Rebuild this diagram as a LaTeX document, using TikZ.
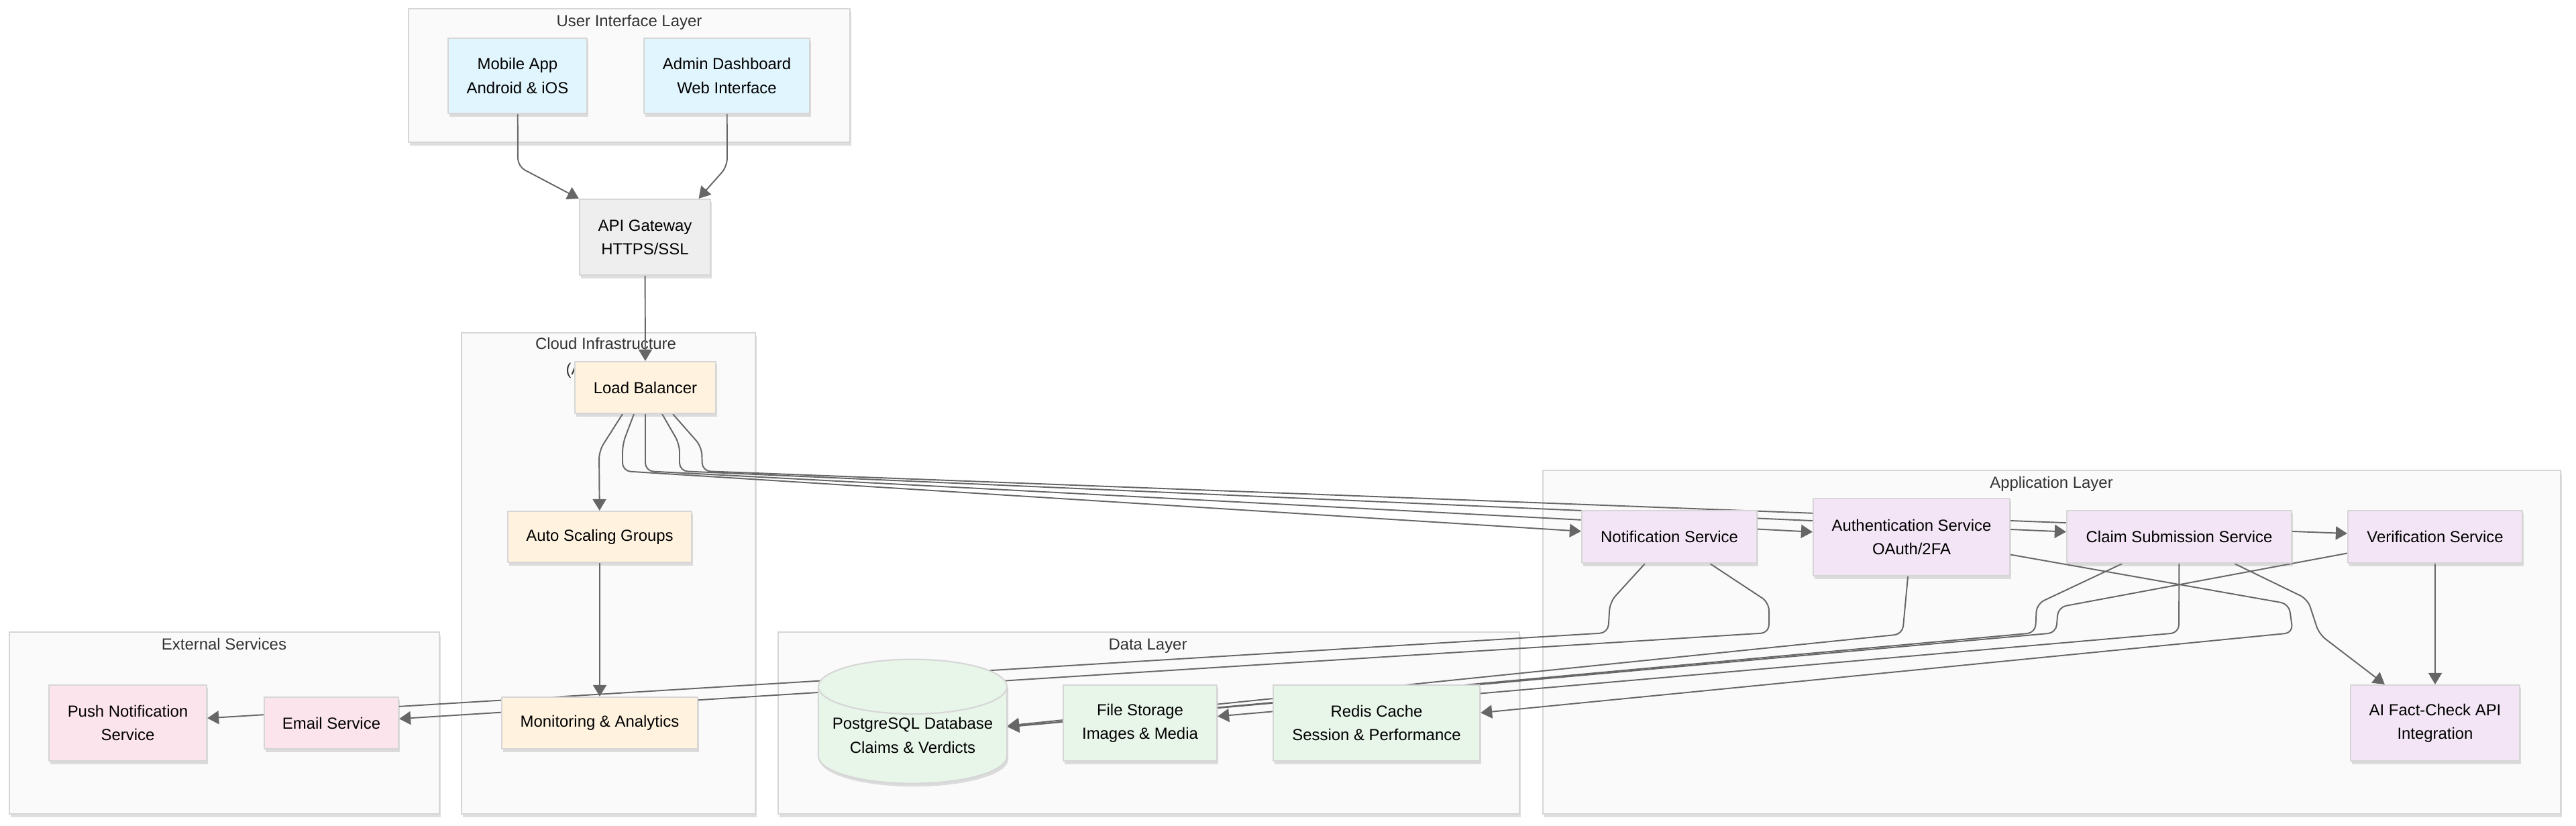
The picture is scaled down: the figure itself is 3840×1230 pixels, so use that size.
\documentclass[tikz,border=0pt]{standalone}
\usepackage{fontspec}
\setmainfont{Liberation Sans}
\usetikzlibrary{arrows.meta,shapes.geometric,shadows}
\definecolor{edgegray}{HTML}{666666}
\definecolor{boxline}{HTML}{D6D6D6}
\definecolor{clusterbg}{HTML}{FAFAFA}
\definecolor{uiblue}{HTML}{E1F5FE}
\definecolor{gwgray}{HTML}{EEEEEE}
\definecolor{cloudorange}{HTML}{FFF3E0}
\definecolor{apppurple}{HTML}{F3E5F5}
\definecolor{datagreen}{HTML}{E8F5E9}
\definecolor{extpink}{HTML}{FCE4EC}
\pgfdeclarelayer{bg}\pgfdeclarelayer{edges}
\pgfsetlayers{bg,edges,main}
\begin{document}
\begin{tikzpicture}[x=0.01cm,y=-0.01cm,>={Triangle[length=0.17cm,width=0.2cm]},
        line join=round, line cap=round,
        every node/.style={font=\fontsize{6.8}{10}\selectfont},
        boxshadow/.style={drop shadow={shadow xshift=0.02cm,shadow yshift=-0.045cm,opacity=0.25,fill=black!50}},
        cluster/.style={draw=boxline,line width=0.6pt,fill=clusterbg,boxshadow},
        clustertitle/.style={anchor=base,text=black!80},
        box/.style={draw=boxline,line width=0.6pt,align=center,inner sep=0pt,boxshadow},
        uinode/.style={box,fill=uiblue}, cloudnode/.style={box,fill=cloudorange},
        appnode/.style={box,fill=apppurple}, datanode/.style={box,fill=datagreen},
        extnode/.style={box,fill=extpink},
        link/.style={->,draw=edgegray,line width=0.55pt,rounded corners=0.12cm}]
        \useasboundingbox (0,0) rectangle (3840,1230);
        % user interface
        \node[uinode,minimum width=2.07cm,minimum height=1.12cm] (mobile) at (771.5,113) {Mobile App\\Android \& iOS};
        \node[uinode,minimum width=2.47cm,minimum height=1.12cm] (admin) at (1083.5,113) {Admin Dashboard\\Web Interface};
        \node[box,fill=gwgray,minimum width=1.95cm,minimum height=1.13cm] (gateway) at (961.5,353.5) {API Gateway\\HTTPS/SSL};
        % cloud
        \node[cloudnode,minimum width=2.1cm,minimum height=0.77cm] (lb) at (962,577.5) {Load Balancer};
        \node[cloudnode,minimum width=2.74cm,minimum height=0.76cm] (asg) at (894,800) {Auto Scaling Groups};
        \node[cloudnode,minimum width=2.92cm,minimum height=0.77cm] (monitor) at (894,1077.5) {Monitoring \& Analytics};
        % external
        \node[extnode,minimum width=2.35cm,minimum height=1.13cm] (push) at (190.5,1077.5) {Push Notification\\Service};
        \node[extnode,minimum width=2cm,minimum height=0.77cm] (email) at (494,1077.5) {Email Service};
        % data
        \node[datanode,cylinder,shape border rotate=90,aspect=0.34,minimum width=2.81cm,minimum height=1.85cm] (db) at (1360.5,1096) {PostgreSQL Database\\Claims \& Verdicts};
        \node[datanode,minimum width=2.29cm,minimum height=1.13cm] (files) at (1699.5,1077.5) {File Storage\\Images \& Media};
        \node[datanode,minimum width=3.08cm,minimum height=1.13cm] (redis) at (2052,1077.5) {Redis Cache\\Session \& Performance};
        % application
        \node[appnode,minimum width=2.61cm,minimum height=0.78cm] (notify) at (2488.5,800) {Notification Service};
        \node[appnode,minimum width=2.93cm,minimum height=1.15cm] (auth) at (2849.5,800.5) {Authentication Service\\OAuth/2FA};
        \node[appnode,minimum width=3.35cm,minimum height=0.78cm] (claim) at (3248.5,800) {Claim Submission Service};
        \node[appnode,minimum width=2.6cm,minimum height=0.78cm] (verify) at (3630,800) {Verification Service};
        \node[appnode,minimum width=2.52cm,minimum height=1.13cm] (factcheck) at (3630,1077.5) {AI Fact-Check API\\Integration};
        \begin{pgfonlayer}{bg}
            \draw[cluster] (609,13) rectangle (1267,212);
            \draw[cluster] (688,496) rectangle (1126,1213);
            \draw[cluster] (14,942) rectangle (655,1213);
            \draw[cluster] (1160,942) rectangle (2265,1213);
            \draw[cluster] (2300,701) rectangle (3817,1213);
            \node[clustertitle] (uittl) at (938,39) {User Interface Layer};
            \node[clustertitle] (cloudttl) at (903,520) {Cloud Infrastructure};
            \node[clustertitle,anchor=base west,inner sep=0pt] (cloudsub) at (843,558) {(AWS)};
            \node[clustertitle] (extttl) at (334,968) {External Services};
            \node[clustertitle] (datattl) at (1711,968) {Data Layer};
            \node[clustertitle] (appttl) at (3058,727) {Application Layer};
        \end{pgfonlayer}
        \begin{pgfonlayer}{edges}
            \draw[link] (mobile) -- (772,248) -- (gateway.north west);
            \draw[link] (admin) -- (1084,248) -- ([xshift=0.8cm]gateway.north);
            \draw[link] (gateway) -- (lb);
            \draw[link] ([xshift=-0.34cm]lb.south) -- (893,672) -- (asg);
            \draw[link] ([xshift=-0.17cm]lb.south) -- (928,662) -- (928,702) -- (notify);
            \draw[link] (lb.south) -- (962,702) -- (auth);
            \draw[link] ([xshift=0.25cm]lb.south) -- (1013,662) -- (1013,702) -- (claim);
            \draw[link] ([xshift=0.41cm]lb.south) -- (1046,666) -- (1047,702) -- (verify);
            \draw[link] (asg) -- (monitor);
            \draw[link] (notify) -- (2400,897) -- (2397,943) -- (push);
            \draw[link] (notify) -- (2637,898) -- (2637,943) -- (email);
            \draw[link] (auth) -- (2836,945) -- (db);
            \draw[link] (claim) -- (3036,900) -- (3034,943) -- (db);
            \draw[link] (verify) -- (3068,905) -- (3065,943) -- (db);
            \draw[link] (claim) -- (3248,943) -- (files);
            \draw[link] (auth) -- (3412,900) -- (3418,943) -- (redis);
            \draw[link] (claim) -- (3440,893) -- (3457,945) -- (factcheck);
            \draw[link] (verify) -- (factcheck);
        \end{pgfonlayer}
    \end{tikzpicture}
\end{document}
